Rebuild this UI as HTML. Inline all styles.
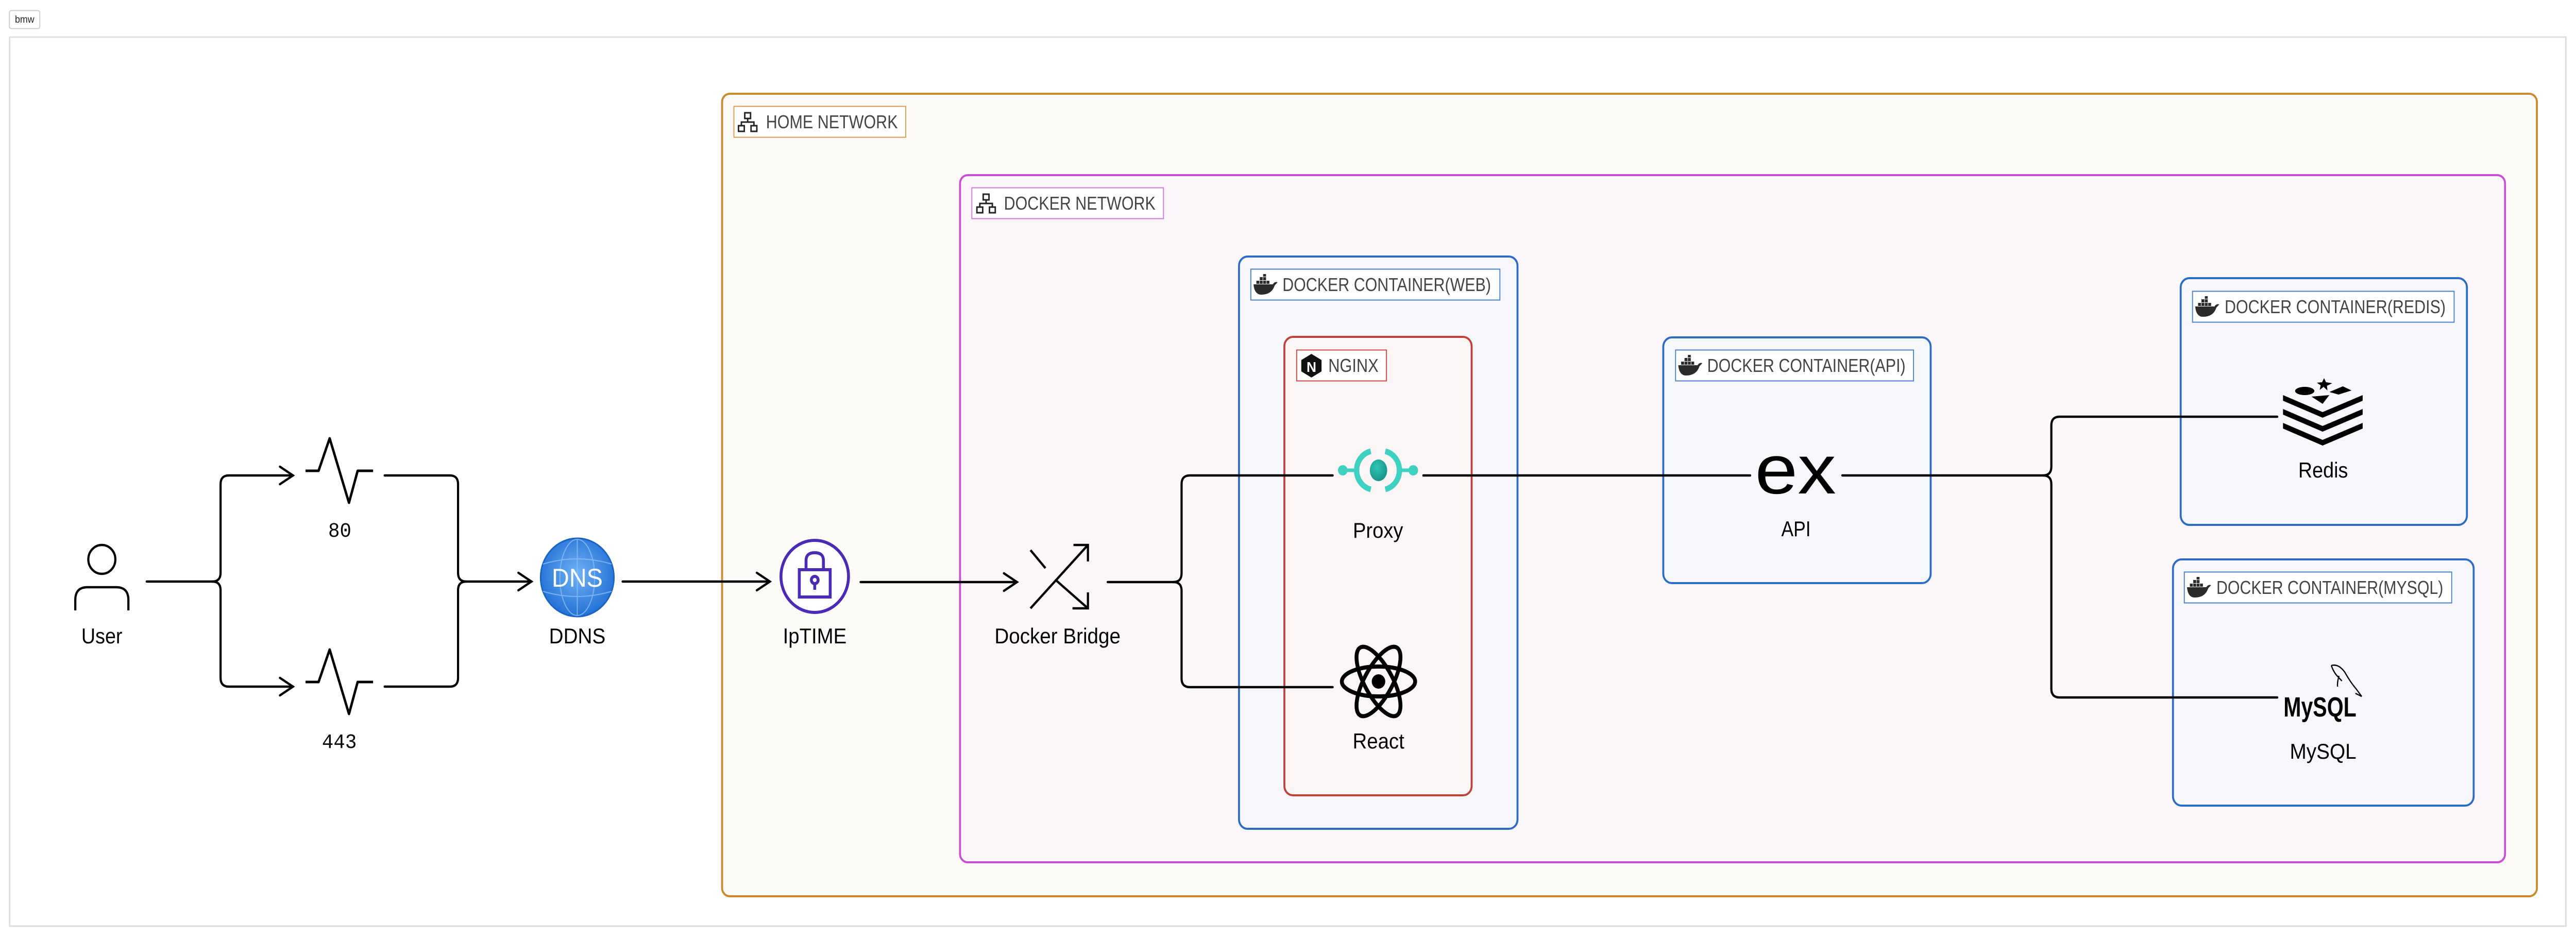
<!DOCTYPE html>
<html><head><meta charset="utf-8"><style>
html,body{margin:0;padding:0;background:#fff;overflow:hidden;width:100%;height:100%;}
svg{display:block;width:100vw;height:100vh;}
</style></head><body>
<svg viewBox="0 0 5337 1821" preserveAspectRatio="none" xmlns="http://www.w3.org/2000/svg" font-family="Liberation Sans, sans-serif">
<defs>
<radialGradient id="dnsg" cx="50%" cy="45%" r="60%"><stop offset="0" stop-color="#6fb2f5"/><stop offset="1" stop-color="#1d6bd3"/></radialGradient>
<radialGradient id="prg" cx="40%" cy="35%" r="70%"><stop offset="0" stop-color="#2fc7b5"/><stop offset="1" stop-color="#1a8f86"/></radialGradient>
<g id="net"><rect x="14" y="0" width="12" height="11" fill="none" stroke="#222" stroke-width="3"/><rect x="1" y="25" width="12" height="11" fill="none" stroke="#222" stroke-width="3"/><rect x="27" y="25" width="12" height="11" fill="none" stroke="#222" stroke-width="3"/><path d="M20 11V18M7 25V18H33V25" fill="none" stroke="#222" stroke-width="3"/></g>
<g id="whale" fill="#2b2b2b"><path d="M0 20 H40 Q44 14 50 16 Q46 20 44 22 Q38 40 16 40 Q2 40 0 20Z"/><rect x="6" y="13" width="6" height="6"/><rect x="13" y="13" width="6" height="6"/><rect x="20" y="13" width="6" height="6"/><rect x="27" y="13" width="6" height="6"/><rect x="13" y="6" width="6" height="6"/><rect x="20" y="6" width="6" height="6"/><rect x="20" y="0" width="6" height="5"/></g>
</defs>

<rect x="19.5" y="20.5" width="63" height="35" rx="4" fill="#fff" stroke="#ccc" stroke-width="2"/>
<text x="51" y="44" font-size="19" text-anchor="middle" fill="#222">bmw</text>
<rect x="20" y="72" width="5296" height="1726" fill="#fff" stroke="#ddd" stroke-width="3"/>

<rect x="1496" y="182" width="3760" height="1558" rx="16" fill="#fbfaf6" stroke="#c98a2e" stroke-width="4"/>
<rect x="1520.5" y="206.5" width="356" height="60" fill="#fff" stroke="#d79a4e" stroke-width="2"/>
<use href="#net" x="1529" y="219"/>
<text x="1587" y="249" font-size="36" fill="#444" textLength="273" lengthAdjust="spacingAndGlyphs">HOME NETWORK</text>

<rect x="1989" y="340" width="3201" height="1334" rx="16" fill="#faf6fa" stroke="#c94fd0" stroke-width="4"/>
<rect x="2013.5" y="364.5" width="397" height="60" fill="#fff" stroke="#cf79d6" stroke-width="2"/>
<use href="#net" x="2023" y="377"/>
<text x="2080" y="407" font-size="36" fill="#444" textLength="314" lengthAdjust="spacingAndGlyphs">DOCKER NETWORK</text>

<rect x="2567" y="498" width="577" height="1111" rx="18" fill="#f5f7fb" stroke="#2d6bc4" stroke-width="4"/>
<rect x="2591.5" y="522.5" width="516" height="60" fill="#fff" stroke="#4a7fcc" stroke-width="2"/>
<use href="#whale" x="2597" y="532"/>
<text x="2657" y="565" font-size="36" fill="#444" textLength="432" lengthAdjust="spacingAndGlyphs">DOCKER CONTAINER(WEB)</text>

<rect x="2661" y="654" width="388" height="890" rx="18" fill="#fcf5f5" stroke="#c0403a" stroke-width="4"/>
<rect x="2686.5" y="679.5" width="186" height="60" fill="#fff" stroke="#cc4a44" stroke-width="2"/>
<polygon points="2717,687 2738,699 2738,721 2717,733 2696,721 2696,699" fill="#111"/>
<text x="2717" y="722" font-size="28" font-weight="bold" fill="#fff" text-anchor="middle">N</text>
<text x="2752" y="722" font-size="36" fill="#444" textLength="104" lengthAdjust="spacingAndGlyphs">NGINX</text>

<rect x="3446" y="655" width="554" height="477" rx="18" fill="#f5f7fb" stroke="#2d6bc4" stroke-width="4"/>
<rect x="3471.5" y="679.5" width="493" height="60" fill="#fff" stroke="#4a7fcc" stroke-width="2"/>
<use href="#whale" x="3477" y="689"/>
<text x="3537" y="722" font-size="36" fill="#444" textLength="411" lengthAdjust="spacingAndGlyphs">DOCKER CONTAINER(API)</text>

<rect x="4518" y="540" width="593" height="479" rx="18" fill="#f5f7fb" stroke="#2d6bc4" stroke-width="4"/>
<rect x="4542.5" y="565.5" width="542" height="60" fill="#fff" stroke="#4a7fcc" stroke-width="2"/>
<use href="#whale" x="4548" y="575"/>
<text x="4609" y="608" font-size="36" fill="#444" textLength="458" lengthAdjust="spacingAndGlyphs">DOCKER CONTAINER(REDIS)</text>

<rect x="4502" y="1086" width="623" height="478" rx="18" fill="#f5f7fb" stroke="#2d6bc4" stroke-width="4"/>
<rect x="4525.5" y="1110.5" width="554" height="60" fill="#fff" stroke="#4a7fcc" stroke-width="2"/>
<use href="#whale" x="4531" y="1120"/>
<text x="4592" y="1153" font-size="36" fill="#444" textLength="470" lengthAdjust="spacingAndGlyphs">DOCKER CONTAINER(MYSQL)</text>

<g fill="none" stroke="#000" stroke-width="4.5" stroke-linecap="round">
<path d="M304 1129 H440 Q457 1129 457 1112 V940 Q457 923 474 923 H607"/>
<path d="M440 1129 Q457 1129 457 1146 V1316 Q457 1333 474 1333 H607"/>
<path d="M580 906 L607 923 L580 940 M580 1316 L607 1333 L580 1350"/>
<path d="M797 923 H932 Q949 923 949 940 V1112 Q949 1129 966 1129 H1101"/>
<path d="M797 1333 H932 Q949 1333 949 1316 V1146 Q949 1129 966 1129"/>
<path d="M1074 1112 L1101 1129 L1074 1146"/>
<path d="M1290 1129 H1595 M1568 1112 L1595 1129 L1568 1146"/>
<path d="M1783 1130 H2107 M2080 1113 L2107 1130 L2080 1147"/>
<path d="M2295 1130 H2431 Q2448 1130 2448 1113 V940 Q2448 923 2465 923 H2761"/>
<path d="M2431 1130 Q2448 1130 2448 1147 V1317 Q2448 1334 2465 1334 H2761"/>
<path d="M2949 923 H3626"/>
<path d="M3817 923 H4233 Q4250 923 4250 906 V826 Q4250 809 4267 809 H4718"/>
<path d="M4233 923 Q4250 923 4250 940 V1337 Q4250 1354 4267 1354 H4718"/>
</g>

<g fill="none" stroke="#000" stroke-width="4.5">
<circle cx="211" cy="1086" r="28"/>
<path d="M156 1185 V1165 Q156 1140 181 1140 H241 Q266 1140 266 1165 V1185"/>
</g>
<text x="211" y="1249" font-size="42" text-anchor="middle" textLength="85" lengthAdjust="spacingAndGlyphs">User</text>

<g fill="none" stroke="#000" stroke-width="5" stroke-linejoin="round">
<polyline points="633,914 660,914 683,851 723,976 741,914 773,914"/>
<polyline points="633,1324 660,1324 683,1261 723,1386 741,1324 773,1324"/>
</g>
<text x="704" y="1042" font-size="40" font-family="Liberation Mono, monospace" text-anchor="middle">80</text>
<text x="703" y="1452" font-size="40" font-family="Liberation Mono, monospace" text-anchor="middle">443</text>

<circle cx="1196" cy="1121" r="76" fill="url(#dnsg)" stroke="#1a62c4" stroke-width="3"/>
<g fill="none" stroke="#8cc0f5" stroke-width="2" opacity="0.8">
<ellipse cx="1196" cy="1121" rx="36" ry="74"/><path d="M1125 1095 Q1196 1075 1267 1095 M1125 1148 Q1196 1168 1267 1148 M1196 1047 V1195"/>
</g>
<text x="1196" y="1139" font-size="50" fill="#fff" text-anchor="middle">DNS</text>
<text x="1196" y="1249" font-size="42" text-anchor="middle" textLength="117" lengthAdjust="spacingAndGlyphs">DDNS</text>

<circle cx="1688" cy="1119" r="70" fill="#fff" stroke="#4b2ab5" stroke-width="6"/>
<g fill="none" stroke="#4b2ab5" stroke-width="6">
<rect x="1656" y="1106" width="64" height="53"/>
<path d="M1670 1106 V1088 Q1670 1073 1688 1073 Q1706 1073 1706 1088 V1106"/>
<circle cx="1688" cy="1126" r="7"/><path d="M1688 1133 V1145"/>
</g>
<text x="1688" y="1249" font-size="42" text-anchor="middle" textLength="132" lengthAdjust="spacingAndGlyphs">IpTIME</text>

<g fill="none" stroke="#000" stroke-width="4.5">
<path d="M2135 1068 L2166 1103"/>
<path d="M2135 1181 L2254 1058 M2224 1058 H2254 V1090"/>
<path d="M2186 1125 L2254 1181 M2254 1150 V1181 H2222"/>
</g>
<text x="2191" y="1249" font-size="42" text-anchor="middle" textLength="261" lengthAdjust="spacingAndGlyphs">Docker Bridge</text>

<g>
<path d="M2840 876 A38 38 0 0 0 2840 950" fill="none" stroke="#3ed1c2" stroke-width="11"/>
<path d="M2870 876 A38 38 0 0 1 2870 950" fill="none" stroke="#3ed1c2" stroke-width="11"/>
<ellipse cx="2856" cy="913" rx="18" ry="21" fill="url(#prg)"/>
<circle cx="2782" cy="913" r="10" fill="#3ed1c2"/><circle cx="2928" cy="913" r="10" fill="#3ed1c2"/>
<path d="M2782 913 H2812 M2900 913 H2928" stroke="#3ed1c2" stroke-width="7"/>
</g>
<text x="2855" y="1044" font-size="42" text-anchor="middle" textLength="104" lengthAdjust="spacingAndGlyphs">Proxy</text>

<g fill="none" stroke="#000" stroke-width="8">
<ellipse cx="2856" cy="1323" rx="76" ry="29"/>
<ellipse cx="2856" cy="1323" rx="76" ry="29" transform="rotate(60 2856 1323)"/>
<ellipse cx="2856" cy="1323" rx="76" ry="29" transform="rotate(-60 2856 1323)"/>
</g>
<circle cx="2856" cy="1323" r="14" fill="#000"/>
<text x="2856" y="1453" font-size="42" text-anchor="middle" textLength="107" lengthAdjust="spacingAndGlyphs">React</text>

<text x="3720" y="958" font-size="135" text-anchor="middle" textLength="168" lengthAdjust="spacingAndGlyphs" fill="#000">ex</text>
<text x="3721" y="1041" font-size="42" text-anchor="middle" textLength="61" lengthAdjust="spacingAndGlyphs">API</text>

<g fill="#000">
<path d="M4730 767 L4812 800 L4895 767 V778 L4812 811 L4730 778Z"/>
<path d="M4730 794 L4812 827 L4895 794 V805 L4812 838 L4730 805Z"/>
<path d="M4730 821 L4812 854 L4895 821 V832 L4812 865 L4730 832Z"/>
<ellipse cx="4775" cy="759" rx="20" ry="8"/>
<polygon points="4789,770 4826,767 4812,784"/>
<polygon points="4826,761 4854,750 4872,758 4845,766"/>
<polygon points="4815,734 4819,742 4832,744 4821,749 4822,758 4814,751 4806,757 4808,748 4800,743 4811,742"/>
</g>
<text x="4813" y="927" font-size="42" text-anchor="middle" textLength="103" lengthAdjust="spacingAndGlyphs">Redis</text>

<text x="4731" y="1391" font-size="54" font-weight="bold" textLength="151" lengthAdjust="spacingAndGlyphs">MySQL</text>
<path d="M4830 1292 Q4845 1288 4858 1305 Q4870 1325 4882 1338 L4893 1352 L4880 1346 M4846 1312 Q4842 1325 4843 1333 M4830 1292 Q4835 1305 4842 1312 L4852 1322" fill="none" stroke="#000" stroke-width="2.5"/>
<text x="4813" y="1473" font-size="42" text-anchor="middle" textLength="138" lengthAdjust="spacingAndGlyphs">MySQL</text>
</svg>
</body></html>
